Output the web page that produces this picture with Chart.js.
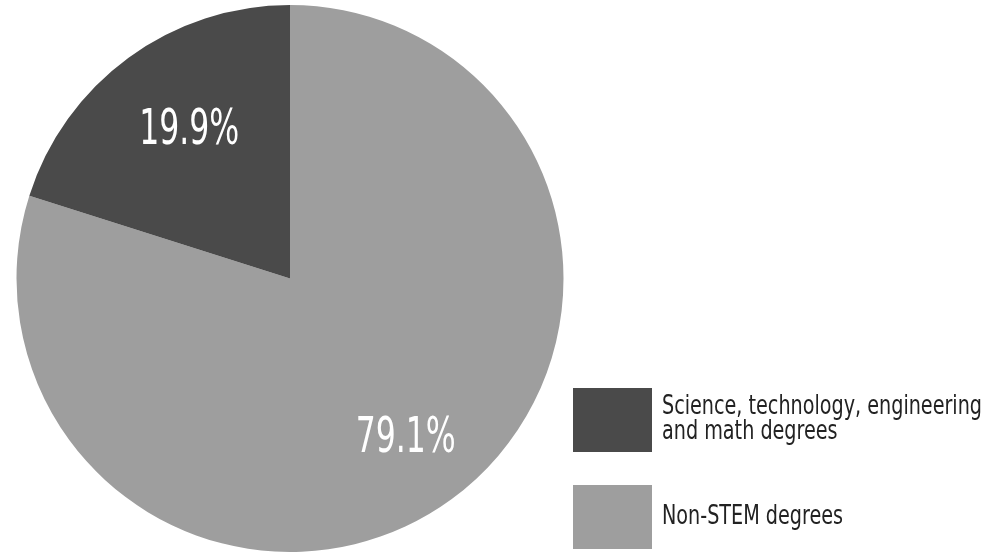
<!DOCTYPE html>
<html>
<head>
<meta charset="utf-8">
<style>
  html, body { margin: 0; padding: 0; background: #ffffff; }
  #wrap { width: 984px; height: 552px; position: relative; }
</style>
<script src="https://cdn.jsdelivr.net/npm/chart.js@4/dist/chart.umd.min.js"></script>
</head>
<body>
<div id="wrap"><canvas id="pie"></canvas></div>
<script>
// Degree mix: share of degrees, percent
const categories = ['Non-STEM degrees', 'Science, technology, engineering\nand math degrees'];
const shares = [79.1, 19.9];
const sliceColors = ['#9e9e9e', '#4a4a4a'];
// legend lists STEM first
const legendOrder = [1, 0];

const FONT = '"DejaVu Sans Condensed", "Liberation Sans Narrow", sans-serif';

// percent labels inside each slice, placed along the slice's mid-angle
const labelNudge = [[6, 5], [9, -2]];
const sliceLabels = {
  id: 'sliceLabels',
  afterDatasetsDraw(chart) {
    const ctx = chart.ctx;
    const meta = chart.getDatasetMeta(0);
    ctx.save();
    ctx.fillStyle = '#ffffff';
    ctx.textAlign = 'center';
    ctx.textBaseline = 'alphabetic';
    ctx.font = '50px ' + FONT;
    meta.data.forEach((arc, i) => {
      const p = arc.getProps(['x', 'y', 'startAngle', 'endAngle', 'outerRadius'], true);
      const mid = (p.startAngle + p.endAngle) / 2;
      const r = p.outerRadius * 0.68;
      const cx = p.x + Math.cos(mid) * r + labelNudge[i][0];
      const cy = p.y + Math.sin(mid) * r + labelNudge[i][1];
      ctx.save();
      ctx.translate(cx, cy + 18);
      ctx.scale(0.70, 1);
      ctx.fillText(shares[i].toFixed(1) + '%', 0, 0);
      ctx.restore();
    });
    ctx.restore();
  }
};

// square-swatch legend at the lower right
const boxLegend = {
  id: 'boxLegend',
  afterDraw(chart) {
    const ctx = chart.ctx;
    const x0 = 573, boxW = 79, boxH = 64, rowY = [388, 485];
    ctx.save();
    ctx.textBaseline = 'middle';
    ctx.textAlign = 'left';
    ctx.font = '26px ' + FONT;
    legendOrder.forEach((idx, row) => {
      const y = rowY[row];
      ctx.fillStyle = sliceColors[idx];
      ctx.fillRect(x0, y, boxW, boxH);
      const lines = categories[idx].split('\n');
      const lineH = 25;
      const startY = y + boxH / 2 - (lines.length - 1) * lineH / 2;
      ctx.fillStyle = '#222222';
      lines.forEach((ln, k) => {
        ctx.save();
        ctx.translate(x0 + boxW + 10, startY + k * lineH);
        ctx.scale(0.82, 1);
        ctx.fillText(ln, 0, 0);
        ctx.restore();
      });
    });
    ctx.restore();
  }
};

new Chart(document.getElementById('pie'), {
  type: 'pie',
  data: {
    labels: categories,
    datasets: [{
      data: shares,
      backgroundColor: sliceColors,
      borderWidth: 0
    }]
  },
  options: {
    responsive: true,
    maintainAspectRatio: false,
    animation: false,
    layout: { padding: { left: 16, right: 420, top: 5, bottom: -1 } },
    plugins: {
      legend: { display: false },
      tooltip: { enabled: false }
    }
  },
  plugins: [sliceLabels, boxLegend]
});
</script>
</body>
</html>
